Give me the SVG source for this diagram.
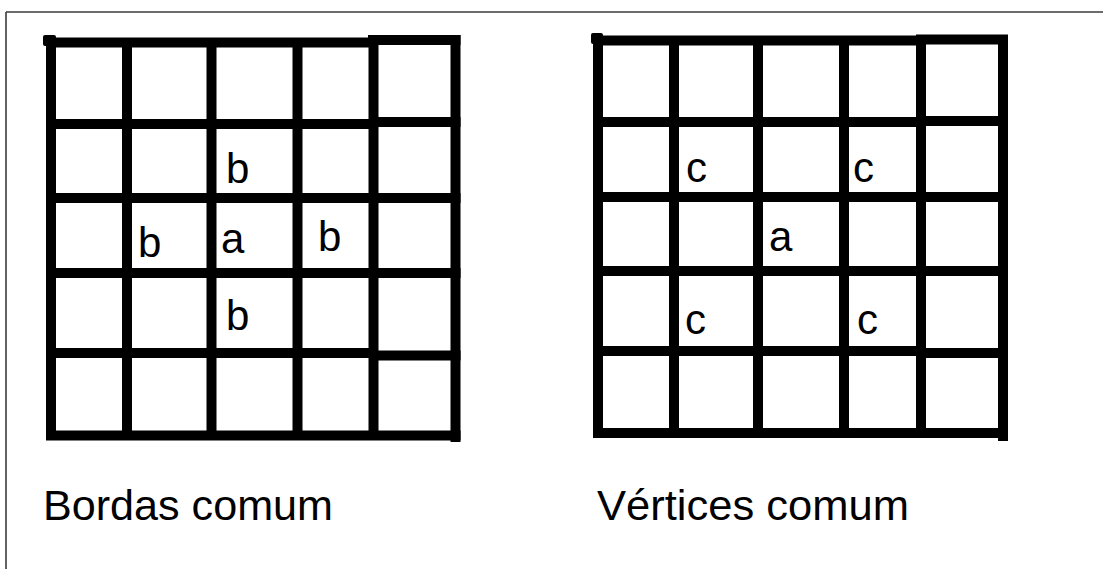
<svg xmlns="http://www.w3.org/2000/svg" width="1103" height="569" viewBox="0 0 1103 569">
  <style>
    .g { stroke: #000; stroke-width: 10; fill: none; stroke-linecap: butt; }
    .lbl { font-family: "Liberation Sans", Arial, sans-serif; font-size: 42px; fill: #000; }
    .cap { font-family: "Liberation Sans", Arial, sans-serif; font-size: 43px; fill: #000; }
  </style>
  <rect x="0" y="0" width="1103" height="569" fill="#fff"/>
  <path d="M6 12 H1103 M6 12 V569" stroke="#3c3c3c" stroke-width="1.6" fill="none"/>

  <g id="grid-bordas">
    <rect x="43" y="35" width="13" height="11" fill="#000" rx="2"/>
    <path class="g" d="M51 37 V440 M127 38 V440 M211.5 38 V440 M297.5 38 V440 M373.5 36 V440 M455.5 35 V442"/>
    <path class="g" d="M46 42.5 H373 M368 40 H460.5 M46 124 H373 M373 122 H460.5 M46 198 H460.5 M46 273 H460.5 M46 353 H373 M373 355.5 H460.5 M46 435.5 H460.5"/>
    <text class="lbl" x="226" y="183">b</text>
    <text class="lbl" x="138" y="257">b</text>
    <text class="lbl" x="221" y="253">a</text>
    <text class="lbl" x="318" y="251">b</text>
    <text class="lbl" x="226" y="330">b</text>
  </g>

  <g id="grid-vertices">
    <rect x="591" y="33" width="12" height="11" fill="#000" rx="2"/>
    <path class="g" d="M598 35 V438 M674 36 V438 M758 36 V438 M844 36 V438 M921 35 V438 M1003 35 V441"/>
    <path class="g" d="M593 40.5 H921 M916 39.5 H1008 M593 122 H921 M921 121 H1008 M593 197 H1008 M593 271 H1008 M593 351 H921 M921 353 H1008 M593 433 H1008"/>
    <text class="lbl" x="686" y="182">c</text>
    <text class="lbl" x="853" y="182">c</text>
    <text class="lbl" x="769" y="251">a</text>
    <text class="lbl" x="685" y="334">c</text>
    <text class="lbl" x="857" y="334">c</text>
  </g>

  <g id="caption-bordas">
    <text class="cap" x="43" y="520" textLength="290" lengthAdjust="spacingAndGlyphs">Bordas comum</text>
  </g>
  <g id="caption-vertices">
    <text class="cap" x="597" y="520" textLength="312" lengthAdjust="spacingAndGlyphs">Vértices comum</text>
  </g>
</svg>
